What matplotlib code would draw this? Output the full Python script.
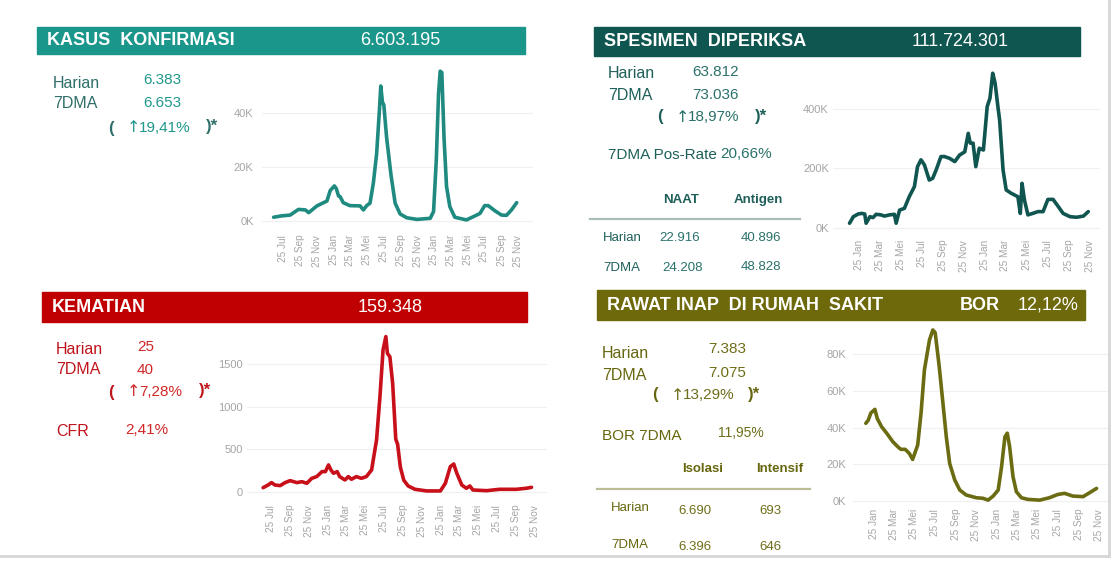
import pandas as pd
import matplotlib.pyplot as plt
from matplotlib.patches import Rectangle

W, H = 1120, 565
plt.rcParams['font.family'] = ['Liberation Sans', 'DejaVu Sans']

# ---- data ----
kasus_dates = ['2020-06-22', '2020-07-21', '2020-08-21', '2020-09-20', '2020-10-15', '2020-10-27',
               '2020-11-26', '2020-12-20', '2021-01-01', '2021-01-13', '2021-01-28', '2021-02-04',
               '2021-02-12', '2021-02-18', '2021-03-01', '2021-03-25', '2021-05-01', '2021-05-13',
               '2021-05-25', '2021-06-06', '2021-06-18', '2021-06-30', '2021-07-10', '2021-07-15',
               '2021-07-21', '2021-07-26', '2021-08-05', '2021-08-21', '2021-09-05', '2021-09-23',
               '2021-10-17', '2021-11-23', '2022-01-10', '2022-01-22', '2022-02-01', '2022-02-09',
               '2022-02-15', '2022-02-21', '2022-03-01', '2022-03-10', '2022-03-22', '2022-04-09',
               '2022-05-21', '2022-06-15', '2022-07-09', '2022-07-26', '2022-08-08', '2022-09-01',
               '2022-09-25', '2022-10-13', '2022-10-31', '2022-11-19']
kasus_k = [1.4, 1.9, 2.2, 4.3, 4.1, 3.1, 5.6, 6.8, 7.4, 11.3, 13.0, 12.0, 9.3, 9.0, 6.8, 5.7,
           5.6, 4.1, 5.7, 6.6, 14, 25, 41, 50, 44, 43, 31, 17, 6.6, 2.6, 1.2, 0.6, 1.0, 3.5,
           22.7, 47, 55.5, 55, 30.7, 12.8, 5.3, 1.4, 0.4, 1.6, 2.8, 5.7, 5.7, 3.8, 2.2, 2.1, 4.1, 6.8]

spesimen_dates = ['2020-12-28', '2021-01-08', '2021-01-22', '2021-02-01', '2021-02-10', '2021-02-14',
                  '2021-02-25', '2021-03-06', '2021-03-15', '2021-03-29', '2021-04-08', '2021-04-23',
                  '2021-05-07', '2021-05-12', '2021-05-22', '2021-06-05', '2021-06-19', '2021-07-04',
                  '2021-07-13', '2021-07-23', '2021-08-02', '2021-08-16', '2021-08-26', '2021-09-05',
                  '2021-09-19', '2021-09-29', '2021-10-14', '2021-10-29', '2021-11-12', '2021-11-27',
                  '2021-12-07', '2021-12-13', '2021-12-21', '2021-12-29', '2022-01-08', '2022-01-20',
                  '2022-01-31', '2022-02-08', '2022-02-16', '2022-02-23', '2022-03-03', '2022-03-08',
                  '2022-03-18', '2022-03-27', '2022-04-10', '2022-04-30', '2022-05-07', '2022-05-12',
                  '2022-05-19', '2022-05-29', '2022-06-12', '2022-06-27', '2022-07-12', '2022-07-26',
                  '2022-08-10', '2022-08-25', '2022-09-08', '2022-09-28', '2022-10-17', '2022-11-06',
                  '2022-11-20']
spesimen_k = [16, 38, 47, 49, 47, 16, 38, 35, 46, 44, 40, 44, 46, 16, 60, 66, 105, 139, 206, 229,
              212, 161, 167, 195, 240, 240, 234, 223, 245, 256, 318, 285, 285, 206, 268, 262, 408,
              436, 520, 486, 408, 363, 195, 128, 117, 105, 49, 150, 94, 44, 49, 55, 55, 96, 96, 72,
              49, 38, 36, 40, 55]

kematian_dates = ['2020-07-01', '2020-07-17', '2020-07-28', '2020-08-08', '2020-08-25', '2020-09-10',
                  '2020-09-26', '2020-10-18', '2020-11-03', '2020-11-19', '2020-12-05', '2020-12-21',
                  '2021-01-07', '2021-01-18', '2021-01-28', '2021-02-05', '2021-02-13', '2021-02-25',
                  '2021-03-05', '2021-03-22', '2021-04-02', '2021-04-12', '2021-04-28', '2021-05-14',
                  '2021-05-30', '2021-06-16', '2021-07-02', '2021-07-13', '2021-07-23', '2021-08-01',
                  '2021-08-06', '2021-08-14', '2021-08-23', '2021-09-02', '2021-09-08', '2021-09-17',
                  '2021-09-28', '2021-10-12', '2021-11-03', '2021-12-11', '2022-01-24', '2022-02-09',
                  '2022-02-25', '2022-03-08', '2022-03-18', '2022-04-03', '2022-04-18', '2022-04-29',
                  '2022-05-09', '2022-06-22', '2022-08-03', '2022-09-26', '2022-10-28', '2022-11-14']
kematian = [54, 85, 113, 85, 78, 113, 136, 113, 124, 105, 163, 183, 241, 241, 319, 260, 222, 241,
            183, 144, 183, 152, 183, 163, 183, 260, 610, 1115, 1660, 1815, 1620, 1580, 1270, 620,
            560, 290, 140, 74, 35, 16, 16, 105, 299, 330, 222, 85, 47, 74, 27, 19, 35, 35, 47, 58]

rawat_dates = ['2021-01-01', '2021-01-08', '2021-01-16', '2021-01-28', '2021-02-04', '2021-02-17',
               '2021-03-04', '2021-03-22', '2021-04-06', '2021-04-15', '2021-04-28', '2021-05-10',
               '2021-05-20', '2021-06-04', '2021-06-14', '2021-06-24', '2021-07-09', '2021-07-19',
               '2021-07-26', '2021-08-07', '2021-08-18', '2021-08-28', '2021-09-07', '2021-09-22',
               '2021-10-07', '2021-10-26', '2021-11-25', '2021-12-15', '2021-12-30', '2022-01-14',
               '2022-01-29', '2022-02-08', '2022-02-18', '2022-02-25', '2022-03-04', '2022-03-14',
               '2022-03-24', '2022-04-08', '2022-04-27', '2022-06-01', '2022-06-30', '2022-07-25',
               '2022-08-14', '2022-09-08', '2022-10-08', '2022-10-27', '2022-11-17']
rawat_k = [42.4, 44, 48, 50, 45, 40.5, 37, 32.4, 29.6, 28.2, 28.2, 26, 22.7, 30.5, 48, 71.5, 87.8,
           93.3, 91.8, 73.3, 53.3, 35, 20.5, 11.5, 6, 3.3, 1.8, 1.5, 0.5, 2.7, 6, 18.7, 35, 37,
           29.6, 13.3, 5.1, 1.8, 0.9, 0.5, 1.8, 3.6, 4.2, 2.7, 2.4, 4.5, 6.9]

BULAN = {1: 'Jan', 3: 'Mar', 5: 'Mei', 7: 'Jul', 9: 'Sep', 11: 'Nov'}

fig = plt.figure(figsize=(W / 100, H / 100), dpi=100)
bg = fig.add_axes([0, 0, 1, 1])
bg.set_xlim(0, W)
bg.set_ylim(H, 0)
bg.axis('off')

# page shadow
bg.plot([1109, 1109], [0, 556], color='#d6d6d6', lw=2)
bg.plot([0, 1109], [556, 556], color='#d6d6d6', lw=2)


def header(x, y, w, h, color, title, value, vx):
    bg.add_patch(Rectangle((x, y), w, h, color=color))
    bg.text(x + 10, y + h / 2, title, color='white', fontsize=13, fontweight='bold', va='center')
    bg.text(vx, y + h / 2, value, color='white', fontsize=13, va='center')


def txt(x, y, s, color, size=11.5, weight='normal', ha='left'):
    bg.text(x, y, s, color=color, fontsize=size, fontweight=weight, va='center', ha=ha)


def change(x, y, pct, lab, val, close_x):
    # "( ↑xx,xx% )*" line under the 7DMA value
    txt(x - 19, y, '(', lab, 12, 'bold')
    bg.text(x, y, '↑', color=val, fontsize=11.5, family='DejaVu Sans', va='center')
    txt(x + 12, y, pct, val, 11)
    txt(close_x, y - 1, ')*', lab, 12, 'bold')


def chart(l, t, r, b, dates, vals, color, xlim, ylim, yticks, ylabels, tick_start, ypad):
    ax = fig.add_axes([l / W, 1 - b / H, (r - l) / W, (b - t) / H])
    ax.patch.set_alpha(0)
    ax.plot(pd.to_datetime(dates), vals, color=color, lw=2.6,
            solid_joinstyle='round', solid_capstyle='round')
    ax.set_xlim(pd.Timestamp(xlim[0]), pd.Timestamp(xlim[1]))
    ax.set_ylim(*ylim)
    ax.set_yticks(yticks)
    ax.set_yticklabels(ylabels)
    ticks = pd.date_range(tick_start, '2022-11-01', freq='2MS') + pd.Timedelta(days=24)
    ax.set_xticks(ticks)
    ax.set_xticklabels(['25 ' + BULAN[d.month] for d in ticks], rotation=90)
    for s in ax.spines.values():
        s.set_visible(False)
    ax.grid(axis='y', color='#f0f0f0', lw=0.9)
    ax.tick_params(axis='x', length=0, labelsize=7.2, labelcolor='#a5a5a5', pad=2)
    ax.tick_params(axis='y', length=0, labelsize=8, labelcolor='#a5a5a5', pad=ypad)
    return ax


# ---- KASUS KONFIRMASI ----
teal = '#1a968b'
header(37, 27, 488, 27, teal, 'KASUS  KONFIRMASI', '6.603.195', 360)
lab1, val1 = '#2f6f69', '#1f978b'
txt(53, 83, 'Harian', lab1)
txt(143, 80, '6.383', val1, 11)
txt(53, 103, '7DMA', lab1)
txt(143, 103, '6.653', val1, 11)
change(127, 128, '19,41%', lab1, val1, 206)
chart(262, 62, 533, 232, kasus_dates, kasus_k, '#1f8a80',
      ('2020-05-11', '2023-01-17'), (-4.07, 58.9), [0, 20, 40], ['0K', '20K', '40K'],
      '2020-07-01', 6)

# ---- SPESIMEN DIPERIKSA ----
dteal = '#0f5651'
header(594, 27, 486, 29, dteal, 'SPESIMEN  DIPERIKSA', '111.724.301', 912)
lab2, val2 = '#1e5f5a', '#2a716b'
txt(608, 73, 'Harian', lab2)
txt(692, 72, '63.812', val2, 11)
txt(608, 95, '7DMA', lab2)
txt(692, 95, '73.036', val2, 11)
change(676, 117, '18,97%', lab2, val2, 755)
txt(608, 155, '7DMA Pos-Rate', lab2, 11)
txt(720, 154, '20,66%', val2, 11)
txt(681, 200, 'NAAT', lab2, 9.5, 'bold', 'center')
txt(758, 200, 'Antigen', lab2, 9.5, 'bold', 'center')
bg.plot([590, 800], [219, 219], color='#a9bdbb', lw=1.6)
txt(603, 238, 'Harian', lab2, 9.5)
txt(680, 238, '22.916', val2, 9.5, ha='center')
txt(761, 238, '40.896', val2, 9.5, ha='center')
txt(603, 268, '7DMA', lab2, 9.5)
txt(683, 268, '24.208', val2, 9.5, ha='center')
txt(761, 267, '48.828', val2, 9.5, ha='center')
chart(833, 64, 1100, 237, spesimen_dates, spesimen_k, '#10554f',
      ('2020-11-10', '2022-12-24'), (-30.3, 551), [0, 200, 400], ['0K', '200K', '400K'],
      '2021-01-01', 3)

# ---- KEMATIAN ----
red = '#c00000'
header(42, 292, 485, 30, red, 'KEMATIAN', '159.348', 358)
lab3, val3 = '#c0141c', '#d02828'
txt(56, 350, 'Harian', lab3)
txt(137, 347, '25', val3, 11)
txt(56, 370, '7DMA', lab3)
txt(137, 370, '40', val3, 11)
change(127, 392, '7,28%', lab3, val3, 199)
txt(56, 432, 'CFR', lab3)
txt(125, 430, '2,41%', val3, 11)
chart(247, 333, 547, 502, kematian_dates, kematian, '#c8101a',
      ('2020-05-10', '2023-01-03'), (-113, 1857), [0, 500, 1000, 1500],
      ['0', '500', '1000', '1500'], '2020-07-01', 3)

# ---- RAWAT INAP ----
olive = '#6e690a'
header(597, 290, 488, 30, olive, 'RAWAT INAP  DI RUMAH  SAKIT', '12,12%', 1018)
bg.text(960, 305, 'BOR', color='white', fontsize=13, fontweight='bold', va='center')
lab4, val4 = '#66660f', '#6e6e1a'
txt(602, 353, 'Harian', lab4)
txt(708, 349, '7.383', val4, 11)
txt(602, 375, '7DMA', lab4)
txt(708, 373, '7.075', val4, 11)
change(671, 395, '13,29%', lab4, val4, 748)
txt(602, 436, 'BOR 7DMA', lab4, 11)
txt(718, 433, '11,95%', val4, 10)
txt(703, 469, 'Isolasi', lab4, 9.5, 'bold', 'center')
txt(780, 469, 'Intensif', lab4, 9.5, 'bold', 'center')
bg.plot([597, 810], [489, 489], color='#bcbc96', lw=1.6)
txt(611, 508, 'Harian', lab4, 9.5)
txt(695, 511, '6.690', val4, 9.5, ha='center')
txt(770, 511, '693', val4, 9.5, ha='center')
txt(611, 545, '7DMA', lab4, 9.5)
txt(695, 547, '6.396', val4, 9.5, ha='center')
txt(770, 547, '646', val4, 9.5, ha='center')
chart(853, 325, 1108, 506, rawat_dates, rawat_k, '#6b6b12',
      ('2020-11-24', '2022-12-21'), (-2.7, 96), [0, 20, 40, 60, 80],
      ['0K', '20K', '40K', '60K', '80K'], '2021-01-01', 5)

fig.savefig('out.png', dpi=100)
